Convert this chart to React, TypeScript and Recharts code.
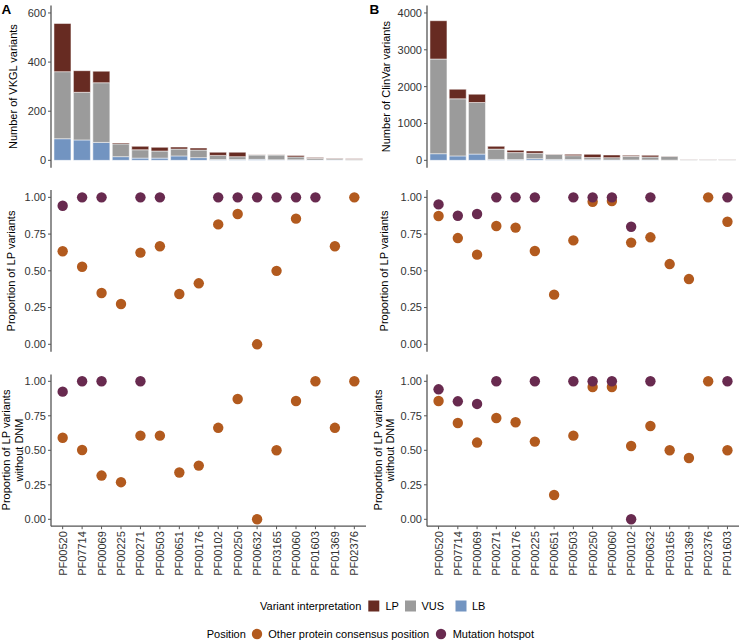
import { BarChart, Bar, ScatterChart, Scatter, XAxis, YAxis } from 'recharts';

// Pfam domains, in the order each panel sorts them (by number of variants)
const CATS_A = ['PF00520', 'PF07714', 'PF00069', 'PF00225', 'PF00271', 'PF00503', 'PF00651', 'PF00176',
  'PF00102', 'PF00250', 'PF00632', 'PF03165', 'PF00060', 'PF01603', 'PF01369', 'PF02376'];
const CATS_B = ['PF00520', 'PF07714', 'PF00069', 'PF00271', 'PF00176', 'PF00225', 'PF00651', 'PF00503',
  'PF00250', 'PF00060', 'PF00102', 'PF00632', 'PF03165', 'PF01369', 'PF02376', 'PF01603'];

// VKGL variant counts per interpretation
const VKGL_LB = [88, 83, 73, 15, 9, 9, 18, 11, 3, 3, 4, 2, 2, 1, 1, 0];
const VKGL_VUS = [273, 194, 243, 52, 34, 29, 28, 31, 17, 12, 18, 20, 12, 7, 5, 4];
const VKGL_LP = [196, 88, 47, 4, 14, 15, 8, 8, 13, 18, 1, 1, 6, 4, 2, 2];

// ClinVar variant counts per interpretation
const CV_LB = [180, 120, 170, 25, 20, 45, 25, 20, 15, 10, 10, 10, 5, 2, 2, 2];
const CV_VUS = [2570, 1550, 1400, 280, 190, 146, 140, 107, 60, 63, 98, 81, 104, 18, 18, 18];
const CV_LP = [1040, 260, 225, 76, 62, 63, 7, 36, 88, 72, 28, 45, 9, 7, 7, 7];

// proportion of LP variants, per position type (null = not present)
const A_LP_HOT = [0.943, 1, 1, null, 1, 1, null, null, 1, 1, 1, 1, 1, 1, null, null];
const A_LP_OTHER = [0.633, 0.528, 0.349, 0.274, 0.624, 0.667, 0.342, 0.415, 0.816, 0.887, 0, 0.5, 0.855, null, 0.667, 1];
const A_DNM_HOT = [0.925, 1, 1, null, 1, null, null, null, null, null, null, null, null, null, null, null];
const A_DNM_OTHER = [0.591, 0.502, 0.317, 0.269, 0.606, 0.606, 0.339, 0.389, 0.663, 0.872, 0, 0.5, 0.857, 1, 0.663, 1];

const B_LP_HOT = [0.952, 0.875, 0.887, 1, 1, 1, null, 1, 1, 1, 0.8, 1, null, null, null, 1];
const B_LP_OTHER = [0.873, 0.723, 0.61, 0.805, 0.794, 0.635, 0.338, 0.707, 0.97, 0.975, 0.692, 0.728, 0.546, 0.444, 1, 0.834];
const B_DNM_HOT = [0.942, 0.855, 0.836, 1, null, 1, null, 1, 1, 1, 0, 1, null, null, null, 1];
const B_DNM_OTHER = [0.857, 0.698, 0.556, 0.734, 0.703, 0.563, 0.176, 0.606, 0.959, 0.959, 0.531, 0.676, 0.5, 0.444, 1, 0.5];

const VKGL_TICKS = [0, 200, 400, 600];
const CV_TICKS = [0, 1000, 2000, 3000, 4000];
const PROP_TICKS = [0, 0.25, 0.5, 0.75, 1];

const FONT = '"Liberation Sans", Arial, Helvetica, sans-serif';
const AXIS = '#555';
const TXT = '#333';
const C_LP = '#672B22';
const C_VUS = '#9B9B9B';
const C_LB = '#7294C1';
const C_OTHER = '#B25A1E';
const C_HOT = '#682A4F';

type Col = { left: number; width: number; yw: number; mr: number };
const COL_A: Col = { left: 0, width: 370, yw: 51, mr: 4 };
const COL_B: Col = { left: 370, width: 369, yw: 57, mr: 0 };

const tickStyle = { fontSize: 11, fill: TXT, fontFamily: FONT };
const axisLine = { stroke: AXIS, strokeWidth: 1.3 };

function VariantBars({ col, cats, lb, vus, lp, domain, ticks }: {
  col: Col; cats: string[]; lb: number[]; vus: number[]; lp: number[];
  domain: [number, number]; ticks: number[];
}) {
  const data = cats.map((pf, i) => ({ pf, LB: lb[i], VUS: vus[i], LP: lp[i] }));
  return (
    <div style={{ position: 'absolute', left: col.left, top: 0 }}>
      <BarChart width={col.width} height={172} data={data} barCategoryGap="5%"
        margin={{ top: 5.6, right: col.mr, bottom: 4.3, left: 0 }}>
        <XAxis dataKey="pf" height={0} tick={false} tickLine={false} axisLine={axisLine}
          padding={{ left: 2, right: 2 }} />
        <YAxis width={col.yw} domain={domain} ticks={ticks} allowDataOverflow interval={0}
          tickSize={3} tickLine={{ stroke: AXIS }} axisLine={axisLine} tick={tickStyle} />
        <Bar dataKey="LB" stackId="v" fill={C_LB} stroke="#fff" strokeWidth={0.5} isAnimationActive={false} />
        <Bar dataKey="VUS" stackId="v" fill={C_VUS} stroke="#fff" strokeWidth={0.5} isAnimationActive={false} />
        <Bar dataKey="LP" stackId="v" fill={C_LP} stroke="#fff" strokeWidth={0.5} isAnimationActive={false} />
      </BarChart>
    </div>
  );
}

const dot = (p: any) => <circle cx={p.cx} cy={p.cy} r={5.2} fill={p.fill} />;

function PfTick({ x, y, payload, cats }: any) {
  return (
    <text x={x} y={y} transform={`rotate(-90, ${x}, ${y})`} textAnchor="end" dy="0.36em"
      fontSize={11} fill={TXT} fontFamily={FONT}>
      {cats[payload.value - 1]}
    </text>
  );
}

function PropDots({ col, cats, hot, other, top, height, mt, xh, mb }: {
  col: Col; cats: string[]; hot: (number | null)[]; other: (number | null)[];
  top: number; height: number; mt: number; xh: number; mb: number;
}) {
  const toPts = (vals: (number | null)[]) =>
    vals.map((v, i) => ({ x: i + 1, y: v })).filter((p) => p.y !== null);
  const idx = cats.map((_, i) => i + 1);
  return (
    <div style={{ position: 'absolute', left: col.left, top }}>
      <ScatterChart width={col.width} height={height}
        margin={{ top: mt, right: col.mr, bottom: mb, left: 0 }}>
        <XAxis type="number" dataKey="x" domain={[0.4, 16.6]} ticks={idx} allowDataOverflow interval={0}
          height={xh} axisLine={axisLine}
          tickSize={xh ? 3 : 0} tickLine={xh ? { stroke: AXIS } : false}
          tick={xh ? <PfTick cats={cats} /> : false} />
        <YAxis type="number" dataKey="y" width={col.yw} domain={[-0.05, 1.05]} ticks={PROP_TICKS}
          allowDataOverflow interval={0} tickFormatter={(v: number) => v.toFixed(2)}
          tickSize={3} tickLine={{ stroke: AXIS }} axisLine={axisLine} tick={tickStyle} />
        <Scatter data={toPts(other)} fill={C_OTHER} shape={dot} isAnimationActive={false} />
        <Scatter data={toPts(hot)} fill={C_HOT} shape={dot} isAnimationActive={false} />
      </ScatterChart>
    </div>
  );
}

function YTitle({ x, cy, lines }: { x: number[]; cy: number; lines: string[] }) {
  return (
    <>
      {lines.map((l, i) => (
        <text key={l} transform={`translate(${x[i]},${cy}) rotate(-90)`} textAnchor="middle"
          fontSize={11} fill="#000">{l}</text>
      ))}
    </>
  );
}

export default function App() {
  return (
    <div style={{ position: 'absolute', left: 0, top: 0, width: 739, height: 644, background: '#fff', fontFamily: FONT }}>
      <svg width={739} height={644} style={{ position: 'absolute', left: 0, top: 0 }} fontFamily={FONT}>
        <text x={1.5} y={14} fontSize={13.5} fontWeight="bold">A</text>
        <text x={369.5} y={14} fontSize={13.5} fontWeight="bold">B</text>

        <YTitle x={[16.5]} cy={86.6} lines={['Number of VKGL variants']} />
        <YTitle x={[15]} cy={271} lines={['Proportion of LP variants']} />
        <YTitle x={[10, 22.5]} cy={450} lines={['Proportion of LP variants', 'without DNM']} />
        <YTitle x={[390]} cy={86.6} lines={['Number of ClinVar variants']} />
        <YTitle x={[388]} cy={271} lines={['Proportion of LP variants']} />
        <YTitle x={[381.5, 394]} cy={450} lines={['Proportion of LP variants', 'without DNM']} />

        {/* legends */}
        <g fontSize={11} fill="#000">
          <text x={260} y={609.5}>Variant interpretation</text>
          <rect x={368.3} y={600.5} width={11} height={11} fill={C_LP} />
          <text x={385.5} y={609.5}>LP</text>
          <rect x={405} y={600.5} width={11} height={11} fill={C_VUS} />
          <text x={421.5} y={609.5}>VUS</text>
          <rect x={455.5} y={600.5} width={11} height={11} fill={C_LB} />
          <text x={472} y={609.5}>LB</text>

          <text x={206.7} y={638}>Position</text>
          <circle cx={257} cy={634} r={5.2} fill={C_OTHER} />
          <text x={268.3} y={638}>Other protein consensus position</text>
          <circle cx={441} cy={634} r={5.2} fill={C_HOT} />
          <text x={452.7} y={638}>Mutation hotspot</text>
        </g>
      </svg>

      <VariantBars col={COL_A} cats={CATS_A} lb={VKGL_LB} vus={VKGL_VUS} lp={VKGL_LP}
        domain={[-30, 630]} ticks={VKGL_TICKS} />
      <VariantBars col={COL_B} cats={CATS_B} lb={CV_LB} vus={CV_VUS} lp={CV_LP}
        domain={[-200, 4200]} ticks={CV_TICKS} />

      <PropDots col={COL_A} cats={CATS_A} hot={A_LP_HOT} other={A_LP_OTHER}
        top={175} height={180} mt={15} xh={0} mb={3.35} />
      <PropDots col={COL_B} cats={CATS_B} hot={B_LP_HOT} other={B_LP_OTHER}
        top={175} height={180} mt={15} xh={0} mb={3.35} />

      <PropDots col={COL_A} cats={CATS_A} hot={A_DNM_HOT} other={A_DNM_OTHER}
        top={360} height={230} mt={14.4} xh={60} mb={3.8} />
      <PropDots col={COL_B} cats={CATS_B} hot={B_DNM_HOT} other={B_DNM_OTHER}
        top={360} height={230} mt={14.4} xh={60} mb={3.8} />
    </div>
  );
}
